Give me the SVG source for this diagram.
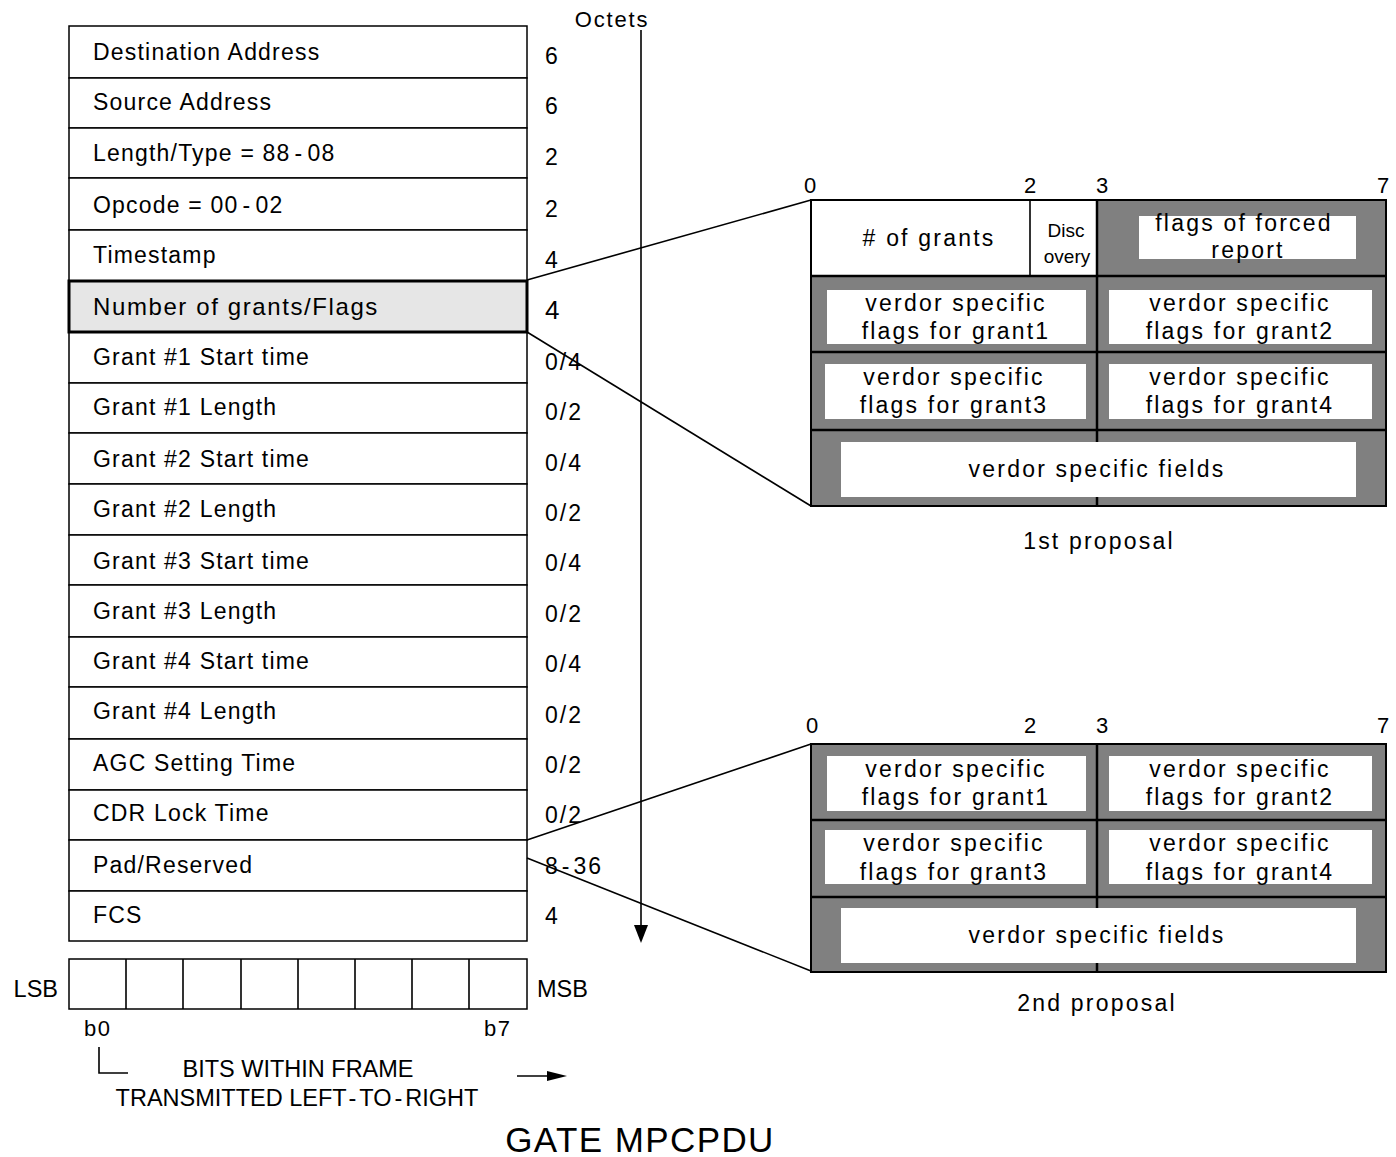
<svg xmlns="http://www.w3.org/2000/svg" width="1396" height="1157" viewBox="0 0 1396 1157">
<style>
text{font-family:"Liberation Sans",Arial,sans-serif;fill:#000}
.lbl{font-size:23px;letter-spacing:1.2px}
.num{font-size:23px;letter-spacing:2px}
.cell{fill:#fff;stroke:#000;stroke-width:1.5}
.gray{fill:#808080;stroke:#000;stroke-width:2}
.wbox{fill:#fff;stroke:none}
.dtxt{font-size:23px;letter-spacing:2.2px;text-anchor:middle}
.ln{stroke:#000;stroke-width:1.6;fill:none}
.idx{font-size:22px;text-anchor:middle}
.btm{font-size:23.5px;text-anchor:middle}
</style>
<rect width="1396" height="1157" fill="#fff"/>

<g id="frame-table">
<rect class="cell" x="69" y="26" width="458" height="52"/>
<rect class="cell" x="69" y="78" width="458" height="50"/>
<rect class="cell" x="69" y="128" width="458" height="50"/>
<rect class="cell" x="69" y="178" width="458" height="52"/>
<rect class="cell" x="69" y="230" width="458" height="51"/>
<rect class="cell" x="69" y="332" width="458" height="51"/>
<rect class="cell" x="69" y="383" width="458" height="50"/>
<rect class="cell" x="69" y="433" width="458" height="51"/>
<rect class="cell" x="69" y="484" width="458" height="51"/>
<rect class="cell" x="69" y="535" width="458" height="50"/>
<rect class="cell" x="69" y="585" width="458" height="52"/>
<rect class="cell" x="69" y="637" width="458" height="50"/>
<rect class="cell" x="69" y="687" width="458" height="52"/>
<rect class="cell" x="69" y="739" width="458" height="51"/>
<rect class="cell" x="69" y="790" width="458" height="50"/>
<rect class="cell" x="69" y="840" width="458" height="51"/>
<rect class="cell" x="69" y="891" width="458" height="50"/>
<rect x="69" y="281" width="458" height="51" fill="#e6e6e6" stroke="#000" stroke-width="3"/>
<text class="lbl" x="93" y="60">Destination Address</text>
<text class="lbl" x="93" y="110">Source Address</text>
<text class="lbl" x="93" y="161">Length/Type = 88<tspan dx="4">-</tspan><tspan dx="4">08</tspan></text>
<text class="lbl" x="93" y="213">Opcode = 00<tspan dx="4">-</tspan><tspan dx="4">02</tspan></text>
<text class="lbl" x="93" y="263">Timestamp</text>
<text class="lbl" x="93" y="315" style="font-size:24px;letter-spacing:1.6px">Number of grants/Flags</text>
<text class="lbl" x="93" y="365">Grant #1 Start time</text>
<text class="lbl" x="93" y="415">Grant #1 Length</text>
<text class="lbl" x="93" y="467">Grant #2 Start time</text>
<text class="lbl" x="93" y="517">Grant #2 Length</text>
<text class="lbl" x="93" y="569">Grant #3 Start time</text>
<text class="lbl" x="93" y="619">Grant #3 Length</text>
<text class="lbl" x="93" y="669">Grant #4 Start time</text>
<text class="lbl" x="93" y="719">Grant #4 Length</text>
<text class="lbl" x="93" y="771">AGC Setting Time</text>
<text class="lbl" x="93" y="821">CDR Lock Time</text>
<text class="lbl" x="93" y="873">Pad/Reserved</text>
<text class="lbl" x="93" y="923">FCS</text>
</g>

<g id="octet-counts">
<text class="num" x="545" y="64">6</text>
<text class="num" x="545" y="114">6</text>
<text class="num" x="545" y="165">2</text>
<text class="num" x="545" y="217">2</text>
<text class="num" x="545" y="268">4</text>
<text class="num" x="545" y="319" style="font-size:26px">4</text>
<text class="num" x="545" y="370">0/4</text>
<text class="num" x="545" y="420">0/2</text>
<text class="num" x="545" y="471">0/4</text>
<text class="num" x="545" y="521">0/2</text>
<text class="num" x="545" y="571">0/4</text>
<text class="num" x="545" y="622">0/2</text>
<text class="num" x="545" y="672">0/4</text>
<text class="num" x="545" y="723">0/2</text>
<text class="num" x="545" y="773">0/2</text>
<text class="num" x="545" y="823">0/2</text>
<text class="num" x="545" y="874">8<tspan dx="2">-</tspan><tspan dx="2">36</tspan></text>
<text class="num" x="545" y="924">4</text>
</g>

<g id="octets-axis">
<text x="612" y="27" style="font-size:22px;letter-spacing:1.8px" text-anchor="middle">Octets</text>
</g>

<g id="bits-box">
<rect class="cell" x="69" y="959" width="458" height="50"/>
<path class="ln" d="M126 959V1009M183 959V1009M241 959V1009M298 959V1009M355 959V1009M412 959V1009M469 959V1009"/>
<text x="58" y="997" style="font-size:23.5px" text-anchor="end">LSB</text>
<text x="537" y="997" style="font-size:23.5px">MSB</text>
<text x="84" y="1036" style="font-size:22px;letter-spacing:1.5px">b0</text>
<text x="484" y="1036" style="font-size:22px;letter-spacing:1.5px">b7</text>
<path class="ln" d="M99 1047V1073H128"/>
<text class="btm" x="298" y="1077">BITS WITHIN FRAME</text>
<text class="btm" x="297" y="1106">TRANSMITTED LEFT<tspan dx="3">-</tspan><tspan dx="3">TO</tspan><tspan dx="3">-</tspan><tspan dx="3">RIGHT</tspan></text>
<text x="640" y="1152" style="font-size:35px;letter-spacing:1.4px" text-anchor="middle">GATE MPCPDU</text>
</g>

<g id="proposal1">
<text class="idx" x="810" y="193">0</text>
<text class="idx" x="1030" y="193">2</text>
<text class="idx" x="1102" y="193">3</text>
<text class="idx" x="1383" y="193">7</text>
<rect class="gray" x="811" y="200" width="575" height="306"/>
<rect fill="#fff" stroke="#000" stroke-width="2" x="811" y="200" width="286" height="76"/>
<path class="ln" d="M1030 200V276"/>
<path d="M811 276H1386M811 352H1386M811 430H1386M1097 200V506" stroke="#000" stroke-width="2.5" fill="none"/>
<rect class="wbox" x="1139" y="216" width="217" height="43"/>
<rect class="wbox" x="827" y="290" width="259" height="54"/>
<rect class="wbox" x="1109" y="290" width="263" height="54"/>
<rect class="wbox" x="825" y="364" width="261" height="55"/>
<rect class="wbox" x="1109" y="364" width="263" height="55"/>
<rect class="wbox" x="841" y="442" width="515" height="55"/>
<text class="dtxt" x="929" y="246">#  of grants</text>
<text x="1066" y="237" style="font-size:19px" text-anchor="middle">Disc</text>
<text x="1067" y="263" style="font-size:19px" text-anchor="middle">overy</text>
<text class="dtxt" x="1244" y="231">flags of forced</text>
<text class="dtxt" x="1248" y="258">report</text>
<text class="dtxt" x="956" y="311">verdor specific</text>
<text class="dtxt" x="956" y="339">flags for grant1</text>
<text class="dtxt" x="1240" y="311">verdor specific</text>
<text class="dtxt" x="1240" y="339">flags for grant2</text>
<text class="dtxt" x="954" y="385">verdor specific</text>
<text class="dtxt" x="954" y="413">flags for grant3</text>
<text class="dtxt" x="1240" y="385">verdor specific</text>
<text class="dtxt" x="1240" y="413">flags for grant4</text>
<text class="dtxt" x="1097" y="477">verdor specific fields</text>
<text class="dtxt" x="1099" y="549">1st proposal</text>
</g>

<g id="proposal2">
<text class="idx" x="812" y="733">0</text>
<text class="idx" x="1030" y="733">2</text>
<text class="idx" x="1102" y="733">3</text>
<text class="idx" x="1383" y="733">7</text>
<rect class="gray" x="811" y="744" width="575" height="228"/>
<path d="M811 820H1386M811 897H1386M1097 744V972" stroke="#000" stroke-width="2.5" fill="none"/>
<rect class="wbox" x="827" y="756" width="259" height="55"/>
<rect class="wbox" x="1109" y="756" width="263" height="55"/>
<rect class="wbox" x="825" y="830" width="261" height="54"/>
<rect class="wbox" x="1109" y="830" width="263" height="54"/>
<rect class="wbox" x="841" y="908" width="515" height="55"/>
<text class="dtxt" x="956" y="777">verdor specific</text>
<text class="dtxt" x="956" y="805">flags for grant1</text>
<text class="dtxt" x="1240" y="777">verdor specific</text>
<text class="dtxt" x="1240" y="805">flags for grant2</text>
<text class="dtxt" x="954" y="851">verdor specific</text>
<text class="dtxt" x="954" y="880">flags for grant3</text>
<text class="dtxt" x="1240" y="851">verdor specific</text>
<text class="dtxt" x="1240" y="880">flags for grant4</text>
<text class="dtxt" x="1097" y="943">verdor specific fields</text>
<text class="dtxt" x="1097" y="1011">2nd proposal</text>
</g>

<g id="connectors">
<line class="ln" x1="641" y1="30" x2="641" y2="928"/>
<polygon points="641,943 634,925 648,925" fill="#000"/>
<line class="ln" x1="527" y1="280" x2="811" y2="200"/>
<line class="ln" x1="527" y1="332" x2="811" y2="506"/>
<line class="ln" x1="527" y1="840" x2="811" y2="744"/>
<line class="ln" x1="527" y1="858" x2="811" y2="971"/>
<line class="ln" x1="517" y1="1076" x2="550" y2="1076"/>
<polygon points="567,1076 547,1071 547,1081" fill="#000"/>
</g>
</svg>
